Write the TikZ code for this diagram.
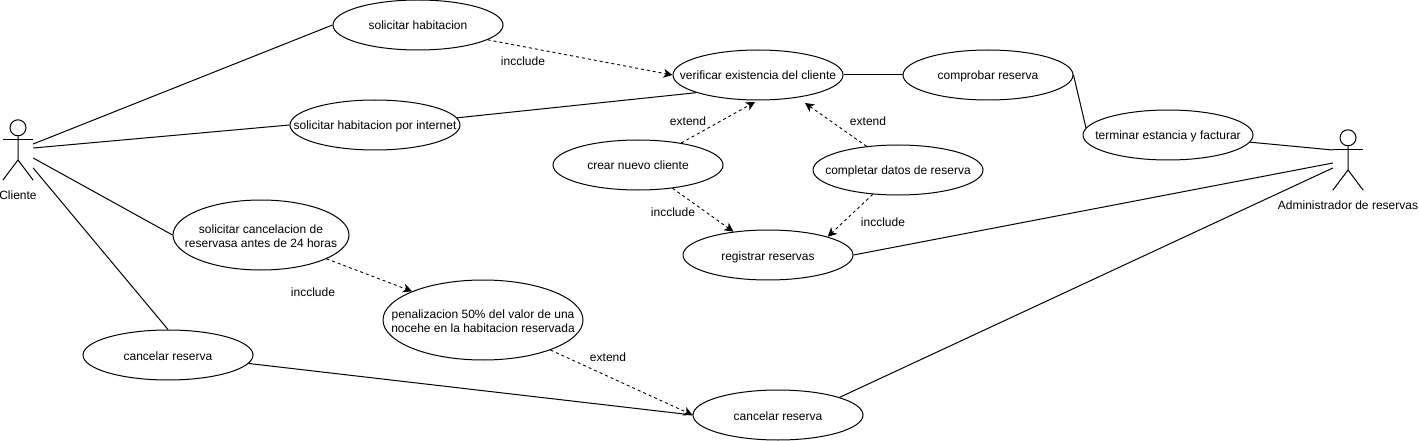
\documentclass[tikz,border=0pt]{standalone}
\usepackage{fontspec}
\setmainfont{Liberation Sans}
\usetikzlibrary{shapes.geometric,arrows.meta,calc}

\tikzset{
  usecase/.style={draw, ellipse, minimum width=170pt, minimum height=50pt,
    inner xsep=-60pt, inner ysep=0pt, align=center, fill=white, line width=1pt,
    text height=10pt, text depth=0pt},
  twolines/.style={text height=24pt, text depth=0pt},
  actorbox/.style={minimum width=30pt, minimum height=60pt, inner sep=0pt},
  actorlabel/.style={inner sep=0pt, anchor=north, text height=10pt, text depth=0pt},
  edgelabel/.style={inner sep=0pt, text height=10pt, text depth=0pt},
  assoc/.style={line width=1pt},
  dep/.style={line width=0.9pt, dashed, dash pattern=on 3pt off 3pt,
    -{Stealth[length=9pt,width=9pt,inset=2.5pt]}}
}

\begin{document}
\begin{tikzpicture}[x=1pt, y=-1pt, font=\fontsize{12}{14}\selectfont]
  \useasboundingbox (0,0) rectangle (1419,441);

  % use cases
  \node[usecase] (habitacion) at (418,25) {solicitar habitacion};
  \node[usecase] (internet) at (375,125) {solicitar habitacion por internet};
  \node[usecase] (verificar) at (758,75) {verificar existencia del cliente};
  \node[usecase] (comprobar) at (988,75) {comprobar reserva};
  \node[usecase] (terminar) at (1168,135) {terminar estancia y facturar};
  \node[usecase] (crear) at (638,165) {crear nuevo cliente};
  \node[usecase] (completar) at (898,170) {completar datos de reserva};
  \node[usecase] (registrar) at (768,255) {registrar reservas};
  \node[usecase, twolines, minimum width=176pt, minimum height=70pt] (cancelacion) at (261,235)
    {solicitar cancelacion de\\reservasa antes de 24 horas};
  \node[usecase, twolines, minimum width=200pt, minimum height=80pt] (penalizacion) at (483,320)
    {penalizacion 50\% del valor de una\\nocehe en la habitacion reservada};
  \node[usecase] (cancelarc) at (168,355) {cancelar reserva};
  \node[usecase] (cancelara) at (778,415) {cancelar reserva};

  % actors
  \node[actorbox] (cliente) at (18,150) {};
  \node[actorbox] (admin) at (1348,160) {};
  \foreach \a in {cliente, admin} {
    \draw[line width=1pt] ($(\a.north)+(0,8)$) circle (8pt);
    \draw[line width=1pt] ($(\a.north)+(0,16)$) -- ($(\a.center)+(0,10)$)
      -- (\a.south west);
    \draw[line width=1pt] ($(\a.center)+(0,10)$) -- (\a.south east);
    \draw[line width=1pt] ($(\a.west)+(0,-10)$) -- ($(\a.east)+(0,-10)$);
  };
  \node[actorlabel] (clientelabel) at (18,189) {Cliente};
  \node[actorlabel] (adminlabel) at (1348,199) {Administrador de reservas};

  \coordinate (cliente1) at ($(cliente.east)+(0,-6)$);
  \coordinate (cliente2) at ($(cliente.east)+(0,-2)$);
  \coordinate (cliente3) at ($(cliente.east)+(0,8)$);
  \coordinate (cliente4) at ($(cliente.east)+(0,18)$);
  \coordinate (admin1) at ($(admin.west)+(0,-10)$);
  \coordinate (admin2) at ($(admin.west)+(0,3)$);
  \coordinate (admin3) at ($(admin.west)+(0,8)$);
  \coordinate (verificartip1) at (755,102);
  \coordinate (verificartip2) at (805,103);

  % plain associations
  \draw[assoc] (cliente1) -- (habitacion.west);
  \draw[assoc] (cliente2) -- (internet.west);
  \draw[assoc] (cliente3) -- (cancelacion.west);
  \draw[assoc] (cliente4) -- (cancelarc.north);
  \draw[assoc] (cancelarc.-6.4) -- (cancelara.west);
  \draw[assoc] (internet.5.6) -- (verificar.-164);
  \draw[assoc] (verificar.east) -- (comprobar.west);
  \draw[assoc] (comprobar.east) -- (terminar.175);
  \draw[assoc] (terminar.-5) -- (admin1);
  \draw[assoc] (registrar.east) -- (admin2);
  \draw[assoc] (cancelara.16.6) -- (admin3);

  % dashed relations
  \draw[dep] (habitacion.-12) -- (verificar.west);
  \draw[dep] (crear.27.6) -- (verificartip1);
  \draw[dep] (completar.143) -- (verificartip2);
  \draw[dep] (crear.-34) -- (registrar.146);
  \draw[dep] (completar.-136) -- (registrar.17);
  \draw[dep] (cancelacion.-20) -- (penalizacion.158.5);
  \draw[dep] (penalizacion.-24) -- (cancelara.west);

  % labels
  \node[edgelabel] (l1) at (523,61) {incclude};
  \node[edgelabel] (l2) at (688,121) {extend};
  \node[edgelabel] (l3) at (868,121) {extend};
  \node[edgelabel] (l4) at (673,211) {incclude};
  \node[edgelabel] (l5) at (883,221) {incclude};
  \node[edgelabel] (l6) at (313,291) {incclude};
  \node[edgelabel] (l7) at (608,356) {extend};
\end{tikzpicture}
\end{document}
